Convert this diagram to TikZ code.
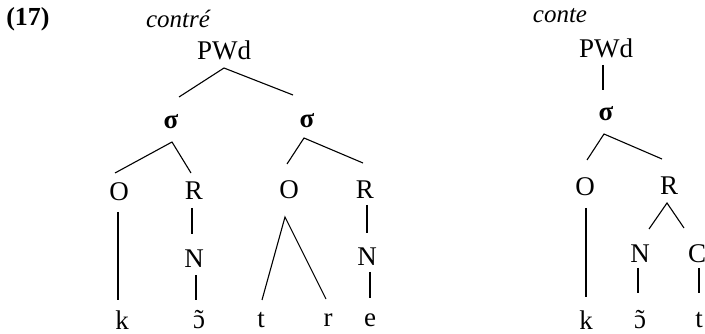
\documentclass[tikz,border=0pt]{standalone}
\usepackage{fontspec}
\setmainfont{Liberation Serif}
\newcommand{\opentilde}{\accent"02DC ɔ}
\usetikzlibrary{calc}
\begin{document}
\begin{tikzpicture}[x=1pt,y=-1pt,
  lbl/.style={inner sep=0pt,font=\fontsize{27}{30}\selectfont},
  sig/.style={inner sep=0pt,font=\fontsize{27}{30}\selectfont\bfseries},
  ital/.style={inner sep=0pt,font=\fontsize{25}{30}\selectfont\itshape},
  edge/.style={line width=1.1pt},
  thickedge/.style={line width=2.4pt}]
\useasboundingbox (0,0) rectangle (705,334);
% left tree
\node[lbl,font=\fontsize{26}{30}\selectfont\bfseries] (num) at (28,19) {(17)};
\node[ital] (w1) at (178,19) {contré};
\node[lbl] (pw1) at (224,50) {PWd};
\node[sig] (s1) at (171,122) {σ};
\node[sig] (s2) at (307,121) {σ};
\node[lbl] (o1) at (119,192) {O};
\node[lbl] (r1) at (194,191) {R};
\node[lbl] (o2) at (289,190) {O};
\node[lbl] (r2) at (365,190) {R};
\node[lbl] (n1) at (194,259) {N};
\node[lbl] (n2) at (367,257) {N};
\node[lbl] (k1) at (122,320) {k};
\node[lbl] (v1) at (199,320) {\opentilde};
\node[lbl] (t1) at (261,320) {t};
\node[lbl] (rr) at (328,320) {r};
\node[lbl] (e1) at (370,320) {e};
\draw[edge] ($(s1)+(8,-25)$) -- ($(pw1)+(0,18)$) -- ($(s2)+(-14,-26)$);
\draw[edge] ($(o1)+(-4,-19)$) -- ($(s1)+(1,20)$) -- ($(r1)+(-3,-18)$);
\draw[edge] ($(o2)+(-2,-26)$) -- ($(s2)+(-3,17)$) -- ($(r2)+(-2,-27)$);
\draw[thickedge] ($(o1)+(-1,20)$) -- ($(k1)+(-4,-20)$);
\draw[edge] ($(r1)+(-2,17)$) -- ($(n1)+(-2,-25)$);
\draw[edge] ($(n1)+(2,16)$) -- ($(v1)+(-3,-20)$);
\draw[edge] ($(t1)+(1,-20)$) -- ($(o2)+(-4,27)$) -- ($(rr)+(-2,-21)$);
\draw[edge] ($(r2)+(2,15)$) -- ($(n2)+(0,-24)$);
\draw[edge] ($(n2)+(3,15)$) -- ($(e1)+(0,-22)$);
% right tree
\node[ital] (w2) at (560,16) {conte};
\node[lbl] (pw2) at (606,48) {PWd};
\node[sig] (s3) at (606,114) {σ};
\node[lbl] (o3) at (585,187) {O};
\node[lbl] (r3) at (669,186) {R};
\node[lbl] (n3) at (640,254) {N};
\node[lbl] (c3) at (697,254) {C};
\node[lbl] (k2) at (586,320) {k};
\node[lbl] (v2) at (640,320) {\opentilde};
\node[lbl] (t2) at (699,320) {t};
\draw[edge] ($(pw2)+(-3,17)$) -- ($(s3)+(-3,-24)$);
\draw[edge] ($(o3)+(2,-27)$) -- ($(s3)+(-2,20)$) -- ($(r3)+(-7,-27)$);
\draw[thickedge] ($(o3)+(1,21)$) -- ($(k2)+(0,-23)$);
\draw[edge] ($(n3)+(9,-25)$) -- ($(r3)+(-2,17)$) -- ($(c3)+(-13,-26)$);
\draw[edge] ($(n3)+(-2,14)$) -- ($(v2)+(-2,-27)$);
\draw[edge] ($(c3)+(2,14)$) -- ($(t2)+(0,-27)$);
\end{tikzpicture}
\end{document}
